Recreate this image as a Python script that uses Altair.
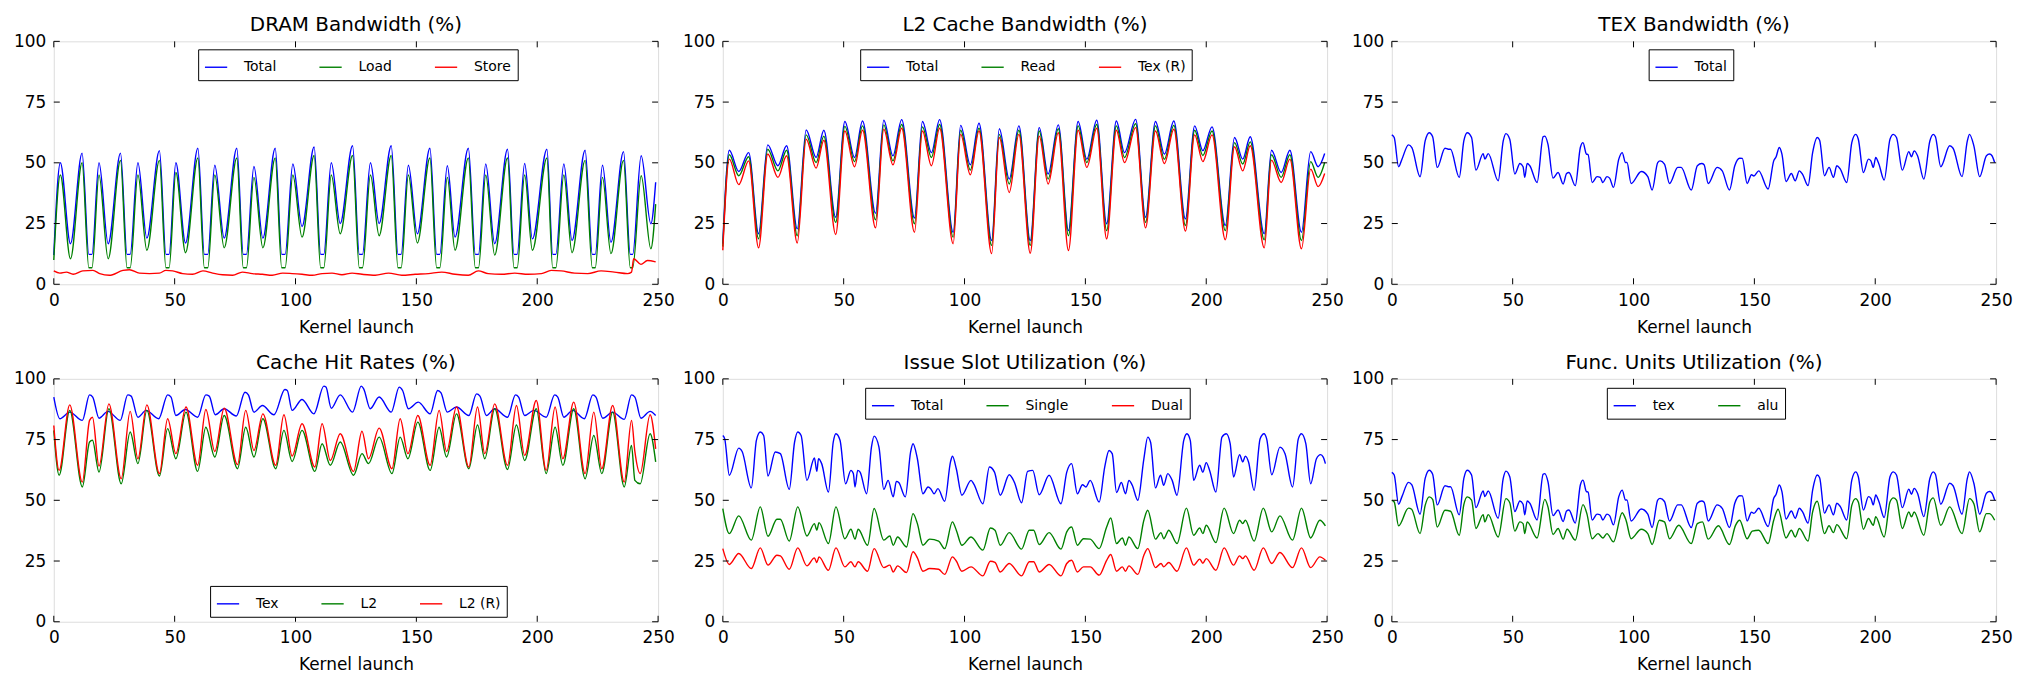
import altair as alt
import pandas as pd

# ---------------- data ----------------
# Panel 1: DRAM Bandwidth
dram_x = [0, 2.7, 6.9, 11.7, 14.5, 15.8, 18.7, 22.5, 27.6, 30.3, 31.6, 34.8, 38.5, 43.7, 46.4, 47.7,
          50.5, 54.5, 59.6, 62.3, 63.7, 66.6, 70.5, 75.7, 78.4, 79.7, 82.8, 86.5, 91.6, 94.3, 95.7,
          98.9, 102.7, 107.7, 110.4, 111.7, 114.8, 118.5, 123.6, 126.4, 127.7, 131, 134.6, 139.6,
          142.4, 143.7, 146.7, 150.4, 155.6, 158.4, 159.7, 162.8, 166, 171.5, 174.4, 175.7, 178.7,
          182.4, 187.7, 190.4, 191.7, 194.8, 198, 204, 206.4, 207.7, 211, 214.4, 219.8, 222.8, 224,
          227, 230.5, 235.7, 238.5, 239.5, 243, 247, 249]
dram_total = [12, 50, 16.7, 54, 12.3, 12.3, 50, 16.7, 54, 12.3, 12.3, 50, 19, 55, 12.3, 12.3,
              50, 17, 56, 12.3, 12.3, 49, 19, 56, 12.3, 12.3, 48.5, 19, 56, 12.3, 12.3,
              49.5, 23.8, 56.5, 12.3, 12.3, 50, 25, 57, 12.3, 12.3, 50, 25, 57,
              12.3, 12.3, 49, 20.8, 56, 12.3, 12.3, 48.8, 19.4, 56, 12.3, 12.3, 49.5,
              16.7, 55.6, 12.3, 12.3, 49.7, 18.7, 55.6, 12.3, 12.3, 49.5, 18, 55.2, 12.3, 12.3,
              49, 17.3, 54.6, 12.3, 12.3, 52.9, 24.9, 42]
dram_load = [10, 45, 10.5, 50, 6.8, 6.8, 45, 10.5, 51, 6.8, 6.8, 45, 14, 51, 6.8, 6.8,
             46, 13, 52, 6.8, 6.8, 45, 15, 52, 6.8, 6.8, 44, 15, 52, 6.8, 6.8,
             45, 19.4, 53, 6.8, 6.8, 45, 20.8, 53, 6.8, 6.8, 45, 20, 53,
             6.8, 6.8, 45, 17, 52, 6.8, 6.8, 44, 14, 52, 6.8, 6.8, 45,
             12, 52, 6.8, 6.8, 45, 14, 52, 6.8, 6.8, 45, 13, 51, 6.8, 6.8,
             44, 12.6, 51, 6.8, 6.8, 44.7, 14.6, 33]
store_x = [0, 2.5, 5.2, 8, 12, 16.2, 19, 23, 28.6, 31.3, 35.4, 39.6, 43.7, 46.4, 49.2, 53.3, 57.4,
           61.7, 65.7, 69.8, 74, 78, 82.1, 86.3, 90.4, 94.7, 98.6, 102.7, 106.9, 111, 115.1, 119.2,
           123.4, 127.5, 133, 138.5, 144, 149.5, 155, 160.5, 166, 171.5, 175.6, 179.7, 185.2, 190.7,
           196.2, 201.7, 205.8, 209.9, 215.4, 220.9, 226.4, 231.9, 237.4, 239, 239.9, 242.9, 245.6, 249]
store_y = [5.5, 4.6, 5.0, 4.1, 5.5, 5.7, 4.4, 3.7, 5.7, 6.0, 4.6, 4.4, 4.6, 5.7, 5.5, 4.4, 4.1,
           5.5, 4.6, 3.9, 3.7, 5.0, 4.4, 4.1, 3.7, 4.6, 4.4, 4.1, 3.7, 4.4, 4.6, 3.9,
           4.6, 4.1, 3.7, 4.6, 3.7, 4.1, 4.4, 5.0, 4.1, 3.7, 5.5, 4.4, 4.1, 4.6,
           4.1, 4.4, 5.7, 5.5, 4.6, 4.4, 5.5, 5.0, 4.4, 5.0, 10.5, 8.2, 9.8, 9.2]

# Panel 2: L2 Cache Bandwidth
l2_x = [0, 2.7, 6.6, 10.7, 14.8, 18.6, 22.8, 26.4, 30.8, 34.5, 38.6, 41.8, 46.7, 50.5, 54.5, 57.8,
        63.2, 66.6, 70.4, 74, 79.3, 82.6, 86.3, 89.7, 95.3, 98.4, 102.4, 106, 111.2, 114.4, 118.5,
        122.5, 127.2, 130.9, 134.6, 138.8, 143, 147, 150.6, 154.7, 158.8, 162.8, 166.2, 170.8,
        174.9, 179, 182.7, 186.6, 191.4, 195.2, 198.6, 202.4, 207.9, 211.7, 215.1, 218.2, 224,
        227, 231, 234.6, 239.4, 243.2, 246.3, 249]
l2_total = [16.7, 55.2, 46.4, 54.2, 20.8, 57.4, 48.8, 57, 22.8, 63.5, 52.2, 63.4, 27.6, 67, 52.2, 67.2,
            29.2, 67.5, 52.9, 67.8, 27.3, 67, 54.2, 67.8, 21.4, 65.4, 49.2, 66.3, 18, 64, 43.3,
            65.2, 18, 64.5, 45.4, 65.6, 22.1, 67, 51.5, 67.5, 24.9, 67.2, 54.2, 67.9,
            27.6, 67, 53.6, 67.2, 26.9, 65.2, 55, 64.8, 24.2, 60.4, 51.5, 60.7, 20.8,
            55.2, 46, 55.2, 21.4, 54.6, 48.4, 53.8]
l2_read = [15.5, 53.3, 44.7, 52.5, 18.7, 55.6, 46.7, 55.2, 20, 61.5, 50.1, 61, 25.5, 65, 50.5, 65.2,
           26.5, 65.6, 50.8, 65.8, 24.9, 64.8, 52.2, 65.8, 19.4, 63.4, 47, 64.2, 16, 61.7, 41.3,
           63.4, 16, 63.1, 43.3, 64, 20, 65.2, 50.1, 65.8, 22.1, 65.2, 52.2, 66.1,
           25.5, 65.2, 51.5, 65.4, 24.2, 63.4, 53, 63.1, 22.1, 58.3, 49.5, 58.6, 18.3,
           53.3, 44, 53.3, 18, 50.5, 44, 50.1]
l2_texr = [14, 51.5, 41, 50.8, 15, 53.6, 44, 52.9, 17, 59.7, 47.8, 59.3, 20.5, 63.1, 48.4, 63.4,
           23.2, 63.8, 49.2, 64.2, 21.4, 63.1, 48.8, 64.2, 16.7, 61.7, 45.1, 63.1, 12.6, 60.4, 37.8,
           61.7, 12.8, 61, 41.3, 62.4, 13.9, 63.4, 48.1, 64.2, 18.7, 63.4, 50.1, 64.5,
           23.2, 63.1, 49.7, 63.8, 21.9, 61.5, 50.5, 61.5, 18.3, 56.6, 46.7, 57, 15,
           51.1, 41.9, 51.5, 14.6, 47.4, 40.2, 45.6]

# Panel 3: TEX Bandwidth (same curve as "tex" in panel 6)
tex_x = [0, 1, 2.8, 4.2, 6.9, 8.3, 11.7, 13.8, 15.5, 16.9, 18.8, 22, 23.4, 24.3, 27.9, 29.8, 31.2,
         33, 34.8, 37.8, 38.5, 39.9, 44, 46.1, 47.2, 48.8, 50.9, 53, 54.3, 55, 56, 57.1, 60.1,
         62.6, 63.3, 64.6, 66.7, 68.8, 70.9, 72.3, 73.3, 75.9, 78, 79.1, 80.5, 81.2, 82.9, 84.9,
         86.2, 87.3, 89, 90.1, 91.7, 93.9, 95.3, 96.7, 97.3, 99, 103.2, 105.9, 107.7, 110, 111,
         112.8, 114.9, 118.3, 119.7, 123.9, 126.4, 128.2, 129.2, 130.9, 134.6, 136.7, 139.7,
         141.9, 143.9, 145, 147, 148.8, 149.8, 151.8, 155.7, 158, 159, 160.3, 161.4, 163.1,
         165.3, 166.9, 168.6, 170, 172.2, 174.1, 176, 177, 179, 180.9, 182.7, 184.1, 185.5,
         188.2, 190.3, 191.9, 193, 195.1, 197.2, 198.2, 199.2, 200.2, 201.5, 203.7, 206.1,
         207.5, 208.8, 211.2, 213.9, 215, 216.1, 217.5, 220.1, 222.6, 224, 224.9, 227.1, 230.8,
         232.2, 235.9, 238.1, 239, 240.8, 243.2, 246, 247.3, 248.3, 249.4]
tex_y = [61.5, 60.4, 48.4, 51.5, 57.4, 56.3, 44.3, 59, 62.4, 60.7, 48.1, 56, 55.6, 55.6, 44, 59, 62.4,
         60.4, 47, 53.8, 51.5, 53.8, 42.6, 59, 62, 59.7, 45.4, 49.7, 48.4, 44, 49.7, 48.8, 41.9,
         60.7, 61, 57.7, 43.7, 46, 41.3, 45.6, 46, 40.6, 56.3, 58.3, 53.6, 53.4, 41.9, 44.3,
         44, 41.9, 44.3, 43.7, 39.9, 51.5, 54.2, 50.1, 50.1, 41.5, 46.4, 44.3, 38.8, 50.1, 50.8,
         49.5, 41.5, 48.1, 48.1, 38.8, 48.8, 49.7, 49.2, 41.5, 48.1, 46.7, 38.8,
         48.8, 51.9, 51.8, 41.5, 45.1, 44.6, 46.7, 39.2, 50.8, 52.5, 56.3, 53.6, 42.3,
         45.6, 42.6, 46.7, 45.1, 40.6, 54.2, 60.4, 59.3, 44.7, 48.1, 44, 48.8, 47.5,
         41.9, 58.3, 61.7, 59.7, 46, 51.5, 50.8, 48.1, 52.2, 49.5, 42.9, 59.7,
         61.7, 60.4, 47, 54.6, 52.5, 54.9, 52.9, 43.3, 59, 61.7, 60.7, 48.4, 57,
         56, 44.3, 59, 61.7, 57, 44.3, 52.9, 53.6, 52.9, 50.1]

# Panel 4: Cache Hit Rates
hit_tex_x = [0, 2.5, 6.6, 11.8, 14.8, 16.1, 18.7, 22.4, 27.5, 30.6, 32, 34.8, 38.2, 43.4, 47.1, 48.5,
             50.5, 54.4, 59.5, 62.9, 64.3, 66.8, 70.5, 75.5, 79.1, 80.5, 82.8, 86.3, 91.1, 95.6, 96.6,
             98.6, 102.7, 107.6, 111.7, 112.6, 114.8, 118.5, 123.6, 127.2, 128.2, 130.9, 134.6,
             139.6, 142.9, 144.3, 146.7, 150.8, 155.7, 158.8, 160.2, 162.8, 166.6, 171.7, 174.9,
             176.3, 179, 182.4, 187.7, 191, 192.3, 194.8, 198.6, 203.7, 207.2, 208.5, 211, 214.7,
             219.5, 223, 224.3, 227.1, 231.2, 236, 239, 240.4, 242.9, 246.7, 249]
hit_tex = [92.5, 83.6, 86.3, 82.9, 93.4, 92.5, 83.8, 86.6, 82.9, 93.4, 92.9, 84.2, 87, 83.6, 93.4, 92.5,
           84.9, 87.4, 84.2, 93.4, 92.9, 85.2, 87.7, 84.7, 94.5, 93.4, 86.3, 89, 85.2, 95.6, 95.2,
           87, 91.5, 85.6, 97, 96.6, 87.9, 93.4, 86.3, 97, 95.9, 87.7, 92.5,
           86.3, 96.6, 95.2, 87.7, 90.4, 85.6, 95.2, 94.2, 86.3, 88.4, 84.9, 93.8,
           92.9, 84.9, 87.7, 84.2, 93.4, 92.5, 84.9, 87, 84.2, 93.4, 92.5, 84.2, 87,
           83.6, 93.4, 92.5, 83.8, 86.3, 83.3, 93.4, 92.5, 83.8, 86.6, 84.9]
hit_l2_x = [0, 2.2, 6.6, 11.8, 14.8, 16, 18.7, 22.8, 27.9, 31.6, 34.8, 38.5, 43.7, 47.1, 50.5, 54.7,
            59.5, 62.9, 66.6, 70.5, 76, 79.4, 82.8, 86.5, 91.8, 95.2, 98.6, 102.7, 108, 111,
            114.4, 118.5, 124, 127.5, 130.2, 134.6, 139.9, 143.3, 146.5, 150.6, 155.7, 159.4,
            162.5, 166.6, 171.7, 175.3, 178.3, 182.4, 187.7, 191.4, 194.8, 199.6, 203.7, 207.4,
            210.6, 215.1, 219.8, 223.4, 226.7, 231.2, 236, 239, 240.4, 242.6, 246.7, 249]
hit_l2 = [78.8, 60.3, 87, 55.5, 74, 74.7, 61.6, 87.7, 56.8, 78.1, 65.1, 87, 60, 79.5, 67.1, 86.3,
          61.9, 80.1, 67.8, 84.9, 63, 80.1, 67.8, 83.6, 63, 78.8, 66, 78.8, 61.9, 73.3,
          64.4, 74, 60.3, 69.2, 65.1, 76, 61, 76, 67.1, 82.2, 62.3, 80.1,
          67.8, 85.6, 63, 81, 67.1, 87.7, 62.7, 81, 66.4, 87.7, 61, 80.1,
          64.4, 87.7, 58.9, 76.7, 61, 86.3, 55.5, 72.6, 58.2, 56.8, 77.4, 65.8]
hit_l2r = [80.8, 62.3, 89.3, 57.5, 82.9, 84.2, 64.1, 89.7, 58.9, 86.6, 67.1, 89.3, 61, 83.6, 69.2, 88.4,
           64.4, 87.4, 70.1, 87.9, 64.7, 87, 70.5, 85.6, 64.4, 85.2, 68.2, 81.5, 63.7, 81.5,
           66.4, 77.4, 61.9, 78.4, 67.1, 79.7, 63, 83.6, 69.2, 84.9, 64.4, 87,
           70.1, 88.4, 63.7, 88.4, 69.2, 89.7, 64.4, 89, 68.5, 91.1, 62.3, 88.4,
           67.1, 90.4, 61, 86.3, 63, 89, 57.5, 82.9, 70, 61, 85.2, 71.2]

# Panel 5: Issue Slot Utilization
iss_x = [0, 0.8, 2.7, 6.6, 8, 11.8, 13.9, 15.5, 16.9, 18.7, 21.7, 23.8, 27.5, 29.7, 31, 32.4, 34.8,
         37.9, 38.9, 39.6, 40.9, 43.7, 45.7, 46.8, 48.5, 50.8, 53, 54, 54.7, 55.8, 56.8, 59.5,
         61.5, 62.6, 64.6, 66.6, 68.4, 70.5, 71.8, 72.8, 75.5, 77.7, 78.7, 80.5, 82.8, 84.9, 86,
         87.4, 89, 91.8, 94.2, 95, 96.6, 98.9, 102.7, 103.8, 107.6, 110.3, 112.4, 114.8, 118.5,
         120.6, 123.6, 126.1, 128.2, 130.9, 135, 139.9, 142.3, 144.3, 146.7, 148.8, 150.2, 152,
         155.7, 158, 159.8, 161.1, 162.9, 164.9, 166.6, 168, 169.4, 171.7, 174.2, 175.8, 177,
         179, 181.1, 182.4, 184.1, 185.9, 187.9, 190.7, 192, 193.4, 194.8, 197.3, 198.6, 200,
         201.4, 204, 206.5, 208.3, 209.9, 211.3, 213.8, 215.1, 216.2, 217.5, 219.8, 222.3,
         223.9, 225, 227.1, 230.5, 232.6, 235.7, 238.1, 239.4, 241.2, 243.2, 245.6, 247.3,
         248.4, 249.3]
iss_total = [76.7, 75.3, 60.3, 71.5, 70.1, 55.1, 74.7, 78.1, 76.7, 60, 69.9, 69.2, 54.5, 74, 78.1, 76.7, 58.2,
             67.4, 61.9, 67.1, 65.1, 53.4, 74, 77.4, 74.7, 56.8, 62.3, 61, 55.5, 62.3, 61.6, 52.7,
             71.9, 76.4, 71.9, 54.5, 58.2, 51.4, 57.8, 57.3, 51.4, 69.9, 73.3, 67.1, 52.7, 55.5, 54.8,
             52.7, 54.8, 49.6, 65.8, 68.2, 63, 52.1, 58.2, 56.8, 48.6, 63.7, 61.6, 52.1, 60.5,
             57.5, 49, 61.9, 62.3, 52.3, 60.3, 48.6, 61.6, 65.1, 52.7, 56.4, 55.5, 58.2,
             49.3, 63.7, 70.5, 69.2, 53.2, 57.3, 52.7, 58.2, 56.2, 50, 67.1, 76, 73.8,
             55.1, 60.3, 56.2, 61, 58.2, 52.1, 74.7, 77.4, 74.7, 58.2, 64.4, 61.6, 65.5,
             62.3, 53.4, 76, 77.4, 73.3, 59.6, 68.8, 65.8, 68.2, 65.8, 54.1, 75.3,
             77.4, 75.3, 60.5, 71.9, 69.2, 55.5, 75.3, 77.4, 73.3, 56.8, 67.1, 68.8,
             67.8, 65.1]
sd_x = [0, 2.7, 6.6, 11.8, 15.5, 18.7, 22.4, 23.8, 27.5, 31, 34.8, 37.9, 38.9, 39.8, 43.7, 46.8,
        50.5, 53, 54.7, 56, 59.9, 62.6, 66.6, 69.1, 70.5, 72.3, 76, 78.7, 80.5, 82.8, 85.6, 89.3,
        91.8, 95, 96.6, 98.9, 102.7, 107.6, 110.7, 112.6, 114.8, 118.5, 123.6, 126.8, 128.6,
        130.9, 135, 139.9, 142.3, 144.3, 146.7, 149.2, 152, 155.7, 158.8, 160.5, 162.9, 165.3,
        166.6, 168, 171.7, 174.2, 175.8, 179, 181.3, 182.4, 184.5, 187.9, 191.8, 194.8, 197.3,
        198.6, 200, 204, 207.4, 211.3, 213.8, 215.1, 216.2, 219.8, 223.6, 227.1, 230.5, 235.7,
        239.4, 243.2, 247, 249.3]
iss_single = [46.6, 36.3, 43.6, 33.6, 47.3, 35.2, 42.2, 42.2, 33.2, 47.3, 35.3, 40.4, 37.7, 40.8, 32.2, 47.3,
              34.2, 38.1, 34, 38.1, 31.5, 46.6, 33.6, 35.3, 31.5, 34.9, 30.8, 44.5, 40.4, 31.5, 34, 33.2,
              30.1, 41.1, 37.7, 31.5, 34.9, 29.5, 38.6, 37.7, 31.5, 36.7, 29.9, 37.7, 37.7,
              31.8, 36.7, 29.9, 37, 39, 31.5, 34.2, 34, 30.1, 39, 42.7, 32.2, 34.5,
              31.5, 34.9, 30.1, 41.8, 45.9, 34, 36.7, 34.2, 37.7, 32.2, 46.8, 35.6, 38.6,
              36.3, 39.7, 32.6, 46.8, 36.3, 41.8, 40.4, 41.8, 33.2, 46.8, 37, 43.6, 33.6,
              46.8, 34.5, 41.8, 39.5]
iss_dual = [30.1, 23.6, 28.1, 21.9, 30.4, 23.3, 27.4, 27.1, 21.6, 30.4, 23, 26.3, 24.4, 26.7, 21.2, 30.4,
            22.6, 24.7, 22.6, 24.7, 20.8, 30.1, 22.3, 23.3, 20.5, 23, 20.3, 28.8, 26.3, 20.8, 21.9, 21.6,
            19.5, 26.7, 25, 20.8, 22.6, 18.9, 24.9, 24.4, 20.5, 24, 18.9, 24.7, 24.7,
            20.5, 23.6, 18.9, 24, 25.3, 20.5, 22.6, 22.6, 19.2, 25.3, 27.7, 20.8, 22.6,
            20.8, 23, 19.5, 27.4, 30.1, 22.3, 24, 22.6, 24.4, 20.8, 30.4, 23.3, 25.8,
            24.1, 26, 21.2, 30.4, 23.3, 27.1, 26, 27.1, 21.2, 30.4, 24, 28.5, 22.3,
            30.4, 22.3, 26.7, 25.3]

# Panel 6: Func. Units Utilization ("tex" = tex_x / tex_y above)
alu_x = [0, 1, 2.8, 6.9, 8.2, 11.7, 13.8, 15.5, 16.9, 18.8, 22, 24.3, 27.9, 29.8, 31.2, 33, 34.8,
         37.8, 38.5, 39.9, 44, 47.2, 48.8, 50.9, 53, 54.3, 55, 56, 60.1, 63.3, 64.6, 66.7, 68.8,
         70.9, 72.5, 75.9, 79.1, 80.7, 82.9, 85.3, 87.3, 89, 91.7, 95.3, 96.9, 99, 103.2, 105.9,
         107.7, 110.7, 112.8, 114.9, 118.7, 123.9, 126.4, 128.5, 130.9, 135.1, 139.7, 142.2,
         143.9, 147, 149.1, 151.8, 155.7, 158, 159.8, 163.1, 165.3, 166.9, 168.6, 172.2, 174.1,
         176, 179, 180.9, 182.7, 184.1, 188.2, 190.3, 191.9, 193, 195.1, 197.2, 199.2, 200.2,
         203.7, 206.1, 207.5, 208.8, 211.2, 213.9, 215, 216.1, 220.1, 222.6, 224, 227.1, 230.8,
         235.9, 239, 240.8, 243.2, 246, 247.3, 249.4]
alu_y = [50, 49.3, 39.5, 46.8, 46.3, 36.3, 47.9, 51.4, 50.4, 39, 45.9, 45.5, 35.6, 48.2, 51.4, 50.1, 38.4,
         44.1, 41.1, 44.1, 34.9, 50.7, 49, 37.3, 41.1, 40.4, 36.3, 41.1, 34.5, 50.4, 47.3, 35.9, 38.4,
         34, 38.1, 33.6, 48.2, 44.5, 34.2, 36.3, 34.5, 36.3, 32.9, 44.9, 41.8, 34.2, 38.1, 36.3,
         31.8, 41.8, 41.1, 34.2, 39.7, 32.2, 40.4, 41.1, 34, 39.5, 31.8, 39.7,
         41.8, 34.2, 37.3, 37.7, 32.2, 41.8, 46.3, 34.5, 37.7, 34.9, 38.4, 33.2, 45.2,
         49.6, 36.3, 39.5, 36.7, 40, 34.2, 47.9, 50.7, 49.3, 38.1, 42.5, 39.7, 43.2,
         34.9, 49.3, 51, 50.1, 38.4, 45.2, 43.2, 45.2, 35.6, 49.3, 51, 39.7, 47.3,
         36.3, 50.7, 48.6, 37, 44.5, 44.5, 41.8]

X_TICKS = [0, 50, 100, 150, 200, 250]
Y_TICKS = [0, 25, 50, 75, 100]
COLORS = ["#0000ff", "#008000", "#ff0000"]

# ---------------- chart ----------------
W, H = 607, 244
FONT = "DejaVu Sans"
TICK = 6


def panel(title, series, lx, ly):
    rows = []
    for name, xs, ys in series:
        for x, y in zip(xs, ys):
            rows.append({"k": x, "v": y, "s": name, "kind": "line"})
    for t in X_TICKS:
        rows.append({"k": t, "v": None, "s": None, "kind": "xt"})
    for t in Y_TICKS:
        rows.append({"k": None, "v": t, "s": None, "kind": "yt"})
    df = pd.DataFrame(rows)
    names = [s[0] for s in series]
    xsc = alt.Scale(domain=[0, 250], nice=False, zero=False)
    ysc = alt.Scale(domain=[0, 100], nice=False, zero=False)
    xax = alt.Axis(values=X_TICKS, title="Kernel launch", format="d", domain=False, ticks=False,
                   grid=False, labelFlush=False, labelOverlap=False, labelPadding=8,
                   labelBaseline="top", labelFontSize=17, labelFont=FONT, labelColor="black",
                   titleFontSize=17, titleFont=FONT, titleFontWeight="normal",
                   titleColor="black", titlePadding=11)
    yax = alt.Axis(values=Y_TICKS, title=None, format="d", domain=False, ticks=False, grid=False,
                   labelFlush=False, labelOverlap=False, labelPadding=8, labelFontSize=17,
                   labelFont=FONT, labelColor="black", labelBaseline="middle")
    base = alt.Chart(df)
    lines = base.transform_filter(alt.datum.kind == "line").mark_line(
        strokeWidth=1.4, interpolate="monotone").encode(
        x=alt.X("k:Q", scale=xsc, axis=xax),
        y=alt.Y("v:Q", scale=ysc, axis=yax),
        color=alt.Color("s:N", scale=alt.Scale(domain=names, range=COLORS[:len(names)]),
                        legend=alt.Legend(title=None, orient="none", legendX=lx, legendY=ly,
                                          direction="horizontal", symbolType="stroke",
                                          symbolSize=500, symbolStrokeWidth=1.4,
                                          labelFontSize=14, labelFont=FONT, labelColor="black",
                                          strokeColor="black", fillColor="white",
                                          padding=6, columnPadding=40, labelOffset=16)),
    )
    xb = base.transform_filter(alt.datum.kind == "xt").mark_rule(color="black", strokeWidth=1).encode(
        x=alt.X("k:Q", scale=xsc, axis=xax), y=alt.value(H), y2=alt.value(H - TICK))
    xtp = base.transform_filter(alt.datum.kind == "xt").mark_rule(color="black", strokeWidth=1).encode(
        x=alt.X("k:Q", scale=xsc, axis=xax), y=alt.value(0), y2=alt.value(TICK))
    yl = base.transform_filter(alt.datum.kind == "yt").mark_rule(color="black", strokeWidth=1).encode(
        y=alt.Y("v:Q", scale=ysc, axis=yax), x=alt.value(0), x2=alt.value(TICK))
    yr = base.transform_filter(alt.datum.kind == "yt").mark_rule(color="black", strokeWidth=1).encode(
        y=alt.Y("v:Q", scale=ysc, axis=yax), x=alt.value(W), x2=alt.value(W - TICK))
    return alt.layer(lines, xb, xtp, yl, yr).properties(
        width=W, height=H,
        title=alt.Title(title, fontSize=20, font=FONT, fontWeight="normal", color="black", offset=-3))


p1 = panel("DRAM Bandwidth (%)", [("Total", dram_x, dram_total), ("Load", dram_x, dram_load),
                                   ("Store", store_x, store_y)], 145, 8)
p2 = panel("L2 Cache Bandwidth (%)", [("Total", l2_x, l2_total), ("Read", l2_x, l2_read),
                                       ("Tex (R)", l2_x, l2_texr)], 138, 8)
p3 = panel("TEX Bandwidth (%)", [("Total", tex_x, tex_y)], 258, 8)
p4 = panel("Cache Hit Rates (%)", [("Tex", hit_tex_x, hit_tex), ("L2", hit_l2_x, hit_l2),
                                    ("L2 (R)", hit_l2_x, hit_l2r)], 157, 208)
p5 = panel("Issue Slot Utilization (%)", [("Total", iss_x, iss_total), ("Single", sd_x, iss_single),
                                           ("Dual", sd_x, iss_dual)], 143, 9)
p6 = panel("Func. Units Utilization (%)", [("tex", tex_x, tex_y), ("alu", alu_x, alu_y)], 216, 9)

chart = alt.concat(p1, p2, p3, p4, p5, p6, columns=3,
                   spacing=alt.RowColnumber(row=16, column=7)).resolve_scale(
    color="independent", x="independent", y="independent"
).properties(
    padding={"left": 5, "top": 5, "right": 5, "bottom": 5}
).configure_view(
    stroke="black", strokeWidth=1
).configure(background="white")

chart.save("out.html", embed_options={"renderer": "svg", "actions": False})
